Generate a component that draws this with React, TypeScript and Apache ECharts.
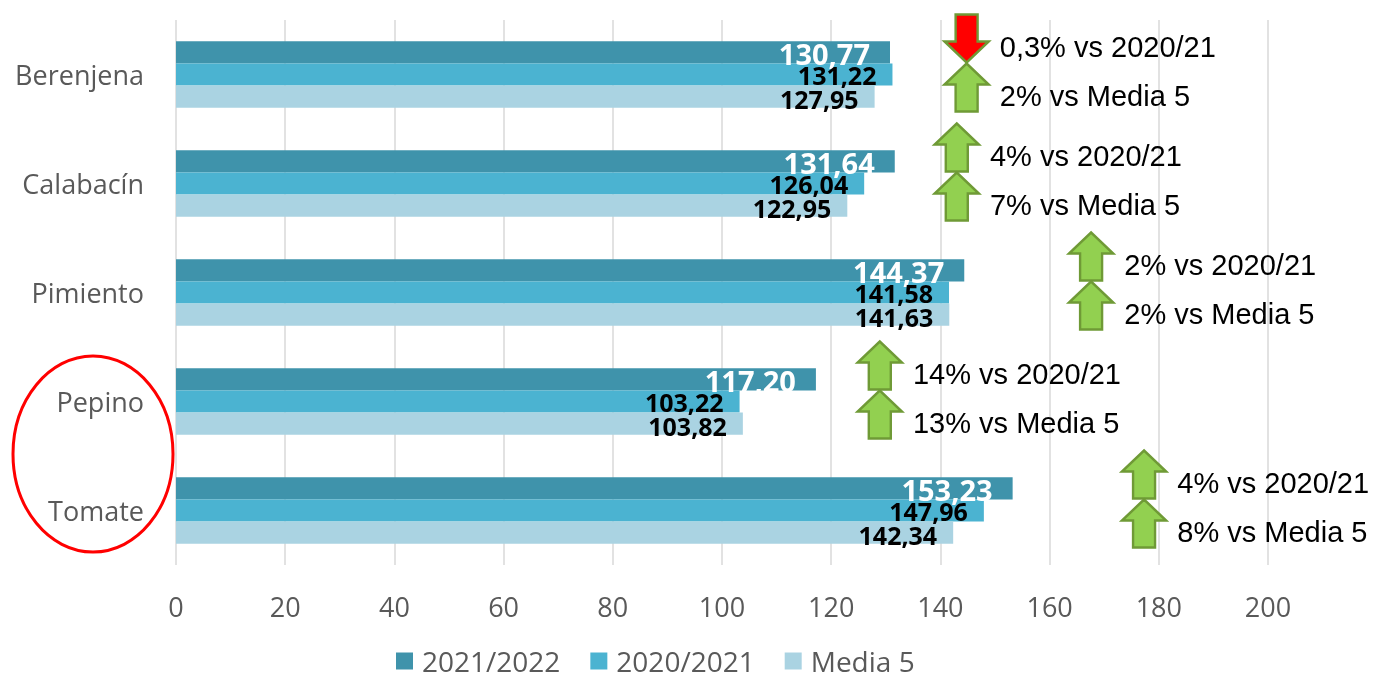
import React, { useEffect, useRef } from "react";
import * as echarts from "echarts";

const categories = ["Berenjena", "Calabacín", "Pimiento", "Pepino", "Tomate"];
const seriesNames = ["2021/2022", "2020/2021", "Media 5"];
const values2122 = [130.77, 131.64, 144.37, 117.2, 153.23];
const values2021 = [131.22, 126.04, 141.58, 103.22, 147.96];
const valuesMedia5 = [127.95, 122.95, 141.63, 103.82, 142.34];
const xTicks = [0, 20, 40, 60, 80, 100, 120, 140, 160, 180, 200];

// annotation: % change vs 2020/21 and vs Media 5 (sign gives arrow direction)
const pctVsPrev = [-0.3, 4, 2, 14, 4];
const pctVsMedia = [2, 7, 2, 13, 8];
// where each pair of arrows sits along the value axis
const arrowAnchor = [144.8, 143.0, 167.6, 128.9, 177.3];

const colors = ["#3F93AB", "#4BB3D1", "#AAD3E2"];
const UP = "path://M22,0L44,21L33,21L33,48L11,48L11,21L0,21Z";
const DOWN = "path://M11,0L33,0L33,27L44,27L22,48L0,27L11,27Z";

const fmtPct = (v: number) => String(Math.abs(v)).replace(".", ",") + "%";
const fmtVal = (v: number) => v.toFixed(2).replace(".", ",");

export default function App() {
  const ref = useRef<HTMLDivElement>(null);
  useEffect(() => {
    if (!ref.current) return;
    const chart = echarts.init(ref.current, undefined, { renderer: "svg" });
    const font = "'Open Sans', sans-serif";
    const barData = [values2122, values2021, valuesMedia5];
    const labelCfg = [
      { color: "#ffffff", fontSize: 29, offset: [0, 1], distance: 20 },
      { color: "#000000", fontSize: 25, offset: [0, 0], distance: 16 },
      { color: "#000000", fontSize: 25, offset: [0, 2], distance: 16 },
    ];
    const bars = seriesNames.map((name, i) => ({
      type: "bar",
      name,
      data: barData[i],
      barGap: "0%",
      barCategoryGap: "39%",
      itemStyle: { color: colors[i] },
      label: {
        show: true,
        position: "insideRight",
        distance: labelCfg[i].distance,
        offset: labelCfg[i].offset,
        color: labelCfg[i].color,
        fontSize: labelCfg[i].fontSize,
        fontWeight: "bold",
        fontFamily: font,
        formatter: (p: any) => fmtVal(p.value),
      },
      z: 2,
    }));
    const arrowSeries = (pcts: number[], suffix: string, dy: number) => ({
      type: "scatter",
      name: "arrows" + suffix,
      data: pcts.map((p, i) => ({
        value: [arrowAnchor[i], i],
        symbol: p < 0 ? DOWN : UP,
        itemStyle: { color: p < 0 ? "#FF0000" : "#92D050" },
      })),
      symbolSize: [44, 48],
      symbolOffset: [0, dy],
      itemStyle: { borderColor: "#6F9A36", borderWidth: 2.5, opacity: 1 },
      label: {
        show: true,
        position: "right",
        distance: 10,
        offset: [0, 8],
        color: "#000000",
        fontSize: 29,
        fontFamily: "'Liberation Sans', Arial, sans-serif",
        formatter: (p: any) => fmtPct(pcts[p.dataIndex]) + suffix,
      },
      silent: true,
      z: 5,
    });
    chart.setOption({
      animation: false,
      grid: { left: 176, right: 105, top: 20, bottom: 117, containLabel: false },
      legend: {
        data: seriesNames,
        left: 396,
        top: 646,
        padding: 0,
        icon: "rect",
        itemWidth: 17,
        itemHeight: 17,
        itemGap: 30,
        textStyle: {
          color: "#595959",
          fontSize: 28,
          lineHeight: 30,
          fontFamily: font,
          padding: [0, 0, 0, 4],
        },
      },
      xAxis: {
        type: "value",
        min: 0,
        max: 200,
        interval: 20,
        axisLine: { show: false },
        axisTick: { show: false },
        splitLine: { show: true, lineStyle: { color: "#D9D9D9", width: 1.5 } },
        axisLabel: {
          color: "#595959",
          fontSize: 27,
          fontFamily: font,
          margin: 28,
          formatter: (v: number) => (xTicks.includes(v) ? String(v) : ""),
        },
      },
      yAxis: {
        type: "category",
        data: categories,
        inverse: true,
        axisLine: { show: false },
        axisTick: { show: false },
        axisLabel: {
          color: "#595959",
          fontSize: 27,
          fontFamily: font,
          margin: 32,
        },
      },
      graphic: [
        {
          type: "ellipse",
          shape: { cx: 93, cy: 454, rx: 80, ry: 98 },
          style: { fill: "none", stroke: "#FF0000", lineWidth: 3 },
          z: 10,
        },
      ],
      series: [
        ...bars,
        arrowSeries(pctVsPrev, " vs 2020/21", -36),
        arrowSeries(pctVsMedia, " vs Media 5", 13),
      ],
    });
    return () => chart.dispose();
  }, []);
  return (
    <div
      ref={ref}
      style={{ position: "fixed", left: 0, top: 0, width: 1373, height: 682 }}
    />
  );
}
